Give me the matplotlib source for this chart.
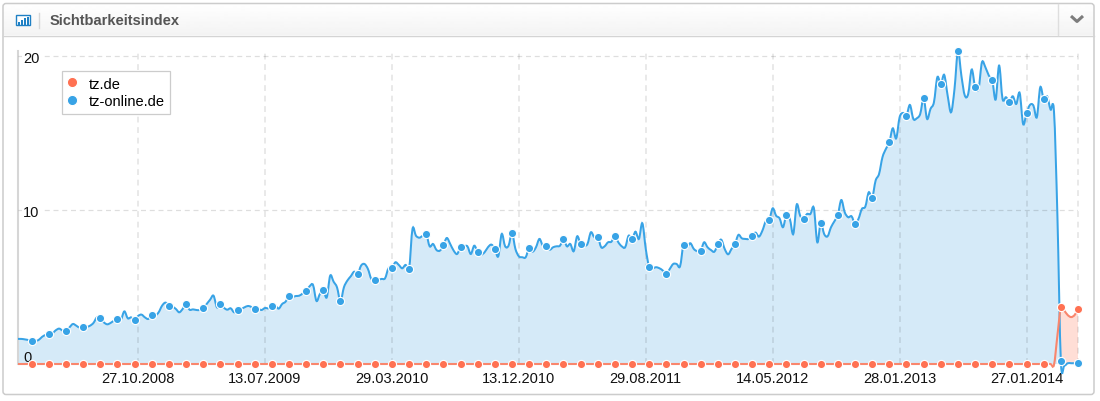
import matplotlib
matplotlib.use("Agg")
import matplotlib.pyplot as plt
import numpy as np
from matplotlib.patches import FancyBboxPatch, PathPatch, Rectangle
from matplotlib.path import Path

plt.rcParams['font.family'] = ['Liberation Sans', 'DejaVu Sans']

# 1. Data (one value per week, the axis is ordinal)
online_values = [
    1.63, 1.63, 1.60, 1.56, 1.52, 1.50, 1.56, 1.76, 1.89, 1.97,
    1.99, 2.19, 2.30, 2.17, 2.12, 2.38, 2.60, 2.49, 2.36, 2.43,
    2.41, 2.49, 2.67, 3.03, 2.97, 2.71, 2.58, 2.67, 2.82, 2.90,
    2.88, 3.42, 2.97, 3.03, 2.84, 3.12, 3.21, 3.03, 2.93, 3.21,
    3.14, 3.36, 3.79, 3.99, 3.77, 3.73, 3.58, 3.36, 3.58, 3.90,
    3.53, 3.55, 3.51, 3.51, 3.62, 3.90, 4.18, 4.44, 3.68, 3.92,
    3.66, 3.53, 3.62, 3.36, 3.51, 3.58, 3.68, 3.77, 3.71, 3.55,
    3.58, 3.51, 3.64, 3.62, 3.79, 3.79, 3.60, 3.90, 4.05, 4.42,
    4.36, 4.42, 4.44, 4.59, 4.77, 5.05, 5.14, 4.10, 4.55, 4.81,
    4.33, 5.74, 5.35, 4.98, 4.07, 4.98, 5.42, 5.70, 6.00, 5.83,
    6.39, 6.50, 6.18, 5.53, 5.48, 5.48, 5.53, 5.57, 6.22, 6.22,
    6.61, 6.44, 6.22, 6.44, 6.18, 8.78, 8.34, 8.21, 8.34, 8.45,
    7.65, 7.80, 7.41, 7.37, 7.72, 8.19, 7.80, 7.37, 7.15, 7.59,
    7.65, 7.65, 7.15, 7.69, 7.28, 7.11, 7.26, 7.59, 7.76, 7.48,
    7.00, 8.45, 7.65, 7.69, 8.52, 7.48, 7.00, 6.94, 6.94, 7.56,
    7.30, 7.59, 8.13, 7.69, 7.69, 7.43, 7.59, 7.65, 7.69, 8.13,
    7.65, 7.80, 7.33, 8.30, 7.80, 7.69, 7.80, 8.56, 8.24, 8.28,
    7.59, 7.65, 7.91, 7.95, 8.34, 7.91, 7.65, 7.59, 8.34, 8.11,
    8.60, 8.13, 9.15, 7.48, 6.29, 6.22, 6.29, 6.22, 6.07, 5.83,
    6.18, 6.50, 6.50, 6.35, 7.76, 7.59, 7.85, 7.48, 7.33, 7.35,
    7.91, 7.59, 7.41, 7.30, 7.78, 8.08, 7.48, 7.13, 7.48, 7.80,
    8.39, 8.17, 8.13, 8.13, 8.34, 8.54, 8.28, 8.67, 9.28, 9.36,
    10.12, 9.64, 9.47, 8.89, 9.69, 9.43, 8.45, 10.36, 9.64, 9.43,
    9.75, 9.75, 10.14, 7.91, 9.19, 8.45, 8.30, 8.89, 9.28, 9.71,
    10.66, 9.86, 9.54, 9.60, 9.10, 9.43, 10.08, 10.23, 11.16, 10.81,
    11.92, 12.35, 13.44, 13.98, 14.41, 15.32, 14.67, 16.04, 16.32, 16.15,
    16.84, 15.93, 15.97, 16.25, 17.27, 15.93, 16.58, 17.01, 18.64, 18.18,
    18.79, 17.45, 16.36, 17.88, 20.35, 18.75, 17.45, 17.56, 19.14, 18.03,
    17.88, 19.61, 19.29, 18.75, 18.44, 17.19, 19.40, 17.23, 17.34, 17.06,
    17.40, 16.90, 17.62, 15.60, 16.30, 16.84, 16.80, 16.04, 17.99, 17.21,
    17.40, 16.54, 16.41, 9.60, 0.20, -0.10, 0.05, 0.05, 0.05, 0.05,
]
tz_values = [0.0] * 302 + [-0.05, 1.85, 3.70, 3.47, 3.18, 3.05, 3.18, 3.55]

tick_positions = [35, 72, 109, 146, 183, 220, 257, 294]
tick_labels = ["27.10.2008", "13.07.2009", "29.03.2010", "13.12.2010",
               "29.08.2011", "14.05.2012", "28.01.2013", "27.01.2014"]
y_ticks = [0, 10, 20]

BLUE = "#38a3e6"
RED = "#ff7152"
GRID = "#000000"

weeks = np.arange(len(online_values))


def spline_path(xs, ys, closed=False):
    # the original draws a rounded line, so go through the points with bezier segments
    xs = np.asarray(xs, dtype=float)
    ys = np.asarray(ys, dtype=float)
    verts = [(xs[0], ys[0])]
    codes = [Path.MOVETO]
    for i in range(len(xs) - 1):
        prev_i = max(i - 1, 0)
        next_i = min(i + 2, len(xs) - 1)
        verts.append((xs[i] + (xs[i + 1] - xs[prev_i]) / 6, ys[i] + (ys[i + 1] - ys[prev_i]) / 6))
        verts.append((xs[i + 1] - (xs[next_i] - xs[i]) / 6, ys[i + 1] - (ys[next_i] - ys[i]) / 6))
        verts.append((xs[i + 1], ys[i + 1]))
        codes += [Path.CURVE4] * 3
    if closed:
        verts += [(xs[-1], 0), (xs[0], 0), (xs[0], ys[0])]
        codes += [Path.LINETO, Path.LINETO, Path.CLOSEPOLY]
    return Path(verts, codes)


fig = plt.figure(figsize=(11, 4.02), dpi=100)

# 2. Card around the chart, in pixel coordinates
bg = fig.add_axes([0, 0, 1, 1], zorder=0)
bg.axis("off")
header = np.linspace(1, 0.955, 32).reshape(-1, 1)
bg.imshow(header, extent=(3, 1094, 36, 4), aspect="auto", cmap="gray", vmin=0, vmax=1)
bg.add_patch(FancyBboxPatch((3, 4.5), 1091, 391, boxstyle="round,pad=0,rounding_size=3",
                            fc="none", ec="#cccccc", lw=1.1))
bg.plot([3, 1094], [36.5, 36.5], color="#d4d4d4", lw=1)
bg.plot([38.5, 38.5], [14, 29], color="#d8d8d8", lw=1)
bg.plot([1057.5, 1057.5], [5, 36], color="#dedede", lw=1)
bg.plot([1071, 1077, 1083], [17, 22.5, 17], color="#7d7d7d", lw=2.2, solid_capstyle="butt")
bg.text(50, 21, "Sichtbarkeitsindex", fontsize=10.5, fontweight="bold", color="#555555", va="center")

# little bar chart icon
bg.add_patch(Rectangle((15.5, 15.5), 14, 10, fc="white", ec="#1f80c4", lw=1))
for bar_x, bar_h in [(18, 3), (21, 5), (24, 7), (27, 8)]:
    bg.add_patch(Rectangle((bar_x, 25.5 - bar_h), 2, bar_h, fc="#1f80c4", ec="none"))
bg.set_xlim(0, 1100)
bg.set_ylim(402, 0)

# 3. The chart itself
ax = fig.add_axes([18 / 1100, 1 - 365 / 402, 1060 / 1100, 313 / 402], zorder=1)
ax.patch.set_alpha(0)
ax.set_xlim(0, len(online_values) - 1)
ax.set_ylim(0, 313 / 15.385)

ax.add_patch(PathPatch(spline_path(weeks, tz_values, closed=True), fc="#ffded6", ec="none", zorder=1))
ax.add_patch(PathPatch(spline_path(weeks, online_values, closed=True), fc="#d5eaf8", ec="none", zorder=1.5))

ax.set_xticks(tick_positions, tick_labels)
ax.set_yticks(y_ticks, [str(v) for v in y_ticks])
ax.grid(axis="y", color=GRID, alpha=0.13, lw=0.9, ls=(0, (4, 3)), zorder=2)
ax.grid(axis="x", color=GRID, alpha=0.09, lw=1.4, ls=(0, (3, 2.4)), zorder=2)
ax.axvline(len(online_values) - 1, color=GRID, alpha=0.09, lw=1.4, ls=(0, (3, 2.4)), zorder=2, clip_on=False)
ax.set_axisbelow(False)

ax.add_patch(PathPatch(spline_path(weeks, online_values), fc="none", ec=BLUE, lw=1.45,
                       zorder=3, clip_on=False))
ax.add_patch(PathPatch(spline_path(weeks, tz_values), fc="none", ec="#f9866d", lw=1.5,
                       zorder=3.2, clip_on=False))
marker_style = dict(ls="none", marker="o", ms=5.9, mew=0.8, mec="white", markevery=(4, 5), clip_on=False)
ax.plot(weeks, tz_values, color=RED, label="tz.de", zorder=4, **marker_style)
ax.plot(weeks, online_values, color=BLUE, label="tz-online.de", zorder=4.2, **marker_style)

for side in ["top", "right", "bottom"]:
    ax.spines[side].set_visible(False)
ax.spines["left"].set_color("#d6d6d6")
ax.spines["left"].set_linewidth(1.5)

ax.tick_params(axis="x", length=0, pad=5, labelsize=10.5, labelcolor="#111111")
ax.tick_params(axis="y", length=0, pad=-3.7, labelsize=10.5, labelcolor="#111111")
for lbl, value in zip(ax.get_yticklabels(), y_ticks):
    lbl.set_ha("left")
    if value == 0:
        lbl.set_va("bottom")
    else:
        lbl.set_bbox(dict(fc="white", ec="none", pad=1))

# 4. Legend box, placed in figure coordinates
leg = ax.legend(loc="upper left", bbox_to_anchor=(62 / 1100, 1 - 72 / 402), bbox_transform=fig.transFigure,
                fontsize=10.5, frameon=True, fancybox=False, framealpha=1, edgecolor="#cccccc",
                borderaxespad=0, borderpad=0.38, handlelength=0.6, handletextpad=0.85,
                labelspacing=0.25, markerscale=1.25)
leg.get_frame().set_linewidth(0.9)
leg.set_zorder(6)

assert len(online_values) == len(tz_values) == 310

fig.savefig("out.png", dpi=100)
print("saved out.png")
